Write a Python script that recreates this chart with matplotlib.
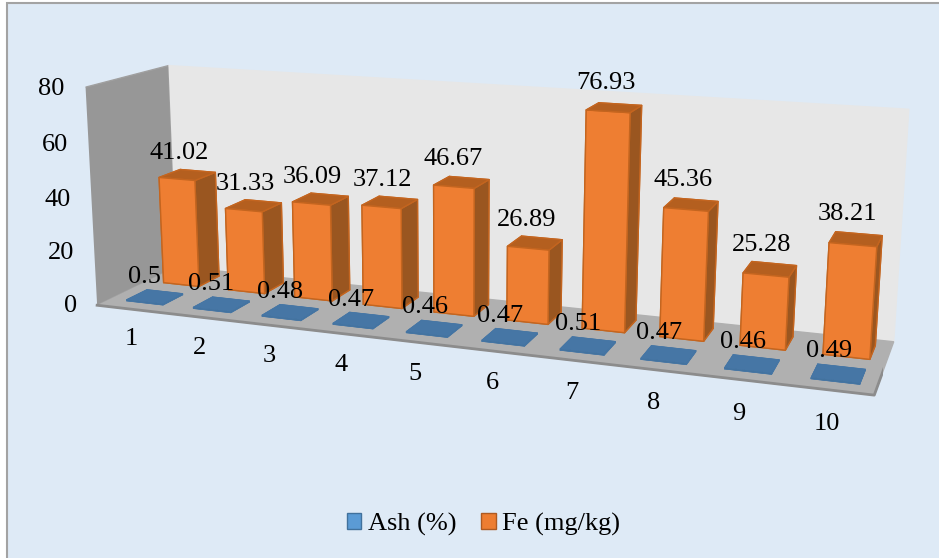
import numpy as np
import matplotlib
matplotlib.use("Agg")
import matplotlib.pyplot as plt
from matplotlib.patches import Rectangle
from mpl_toolkits.mplot3d import proj3d

plt.rcParams['font.family'] = ['Liberation Serif', 'DejaVu Serif']

samples = ['1', '2', '3', '4', '5', '6', '7', '8', '9', '10']
ash = [0.5, 0.51, 0.48, 0.47, 0.46, 0.47, 0.51, 0.47, 0.46, 0.49]
fe = [41.02, 31.33, 36.09, 37.12, 46.67, 26.89, 76.93, 45.36, 25.28, 38.21]
zticks = [0, 20, 40, 60, 80]

fs = 19
fig = plt.figure(figsize=(9.39, 5.58), dpi=100, facecolor='white')
fig.add_artist(Rectangle((6.5 / 939, -0.02), 1.02, 1.02 - 3.5 / 558, transform=fig.transFigure,
                         facecolor='#deeaf6', edgecolor='#a3a3a3', lw=1.5, zorder=-1))

# view settings fitted to the corners of the chart frame
ax = fig.add_axes([0.0631, -0.1388, 0.8777, 1.4771], projection='3d', proj_type='persp', focal_length=0.3653)
ax.patch.set_visible(False)
ax.view_init(elev=13.351, azim=-70.368, roll=-0.223)
ax.set_box_aspect((10, 2.053, 2.89))
ax.computed_zorder = False

n = len(samples)
x = np.arange(n)
w = 0.55
d = 0.55
gap = (1 - w) / 2 + 0.03

# per face colours: bottom, top, front, back, left, right
ash_faces = ['#41719c', '#4676a5', '#41719c', '#41719c', '#41719c', '#41719c'] * n
fe_faces = ['#c05f1c', '#b45f1f', '#ee7e32', '#c05f1c', '#c05f1c', '#9a5620'] * n
ax.bar3d(x + gap, np.full(n, 0.3), np.zeros(n), w, 0.5, ash, color=ash_faces, edgecolor='#4676a5',
         linewidth=0.5, shade=False, zorder=2)
ax.bar3d(x + gap, np.full(n, 1.225), np.zeros(n), w, d, fe, color=fe_faces, edgecolor='#c4651f',
         linewidth=1.0, shade=False, zorder=3)

ax.set_xlim(0, n, view_margin=0)
ax.set_ylim(0, 2, view_margin=0)
ax.set_zlim(0, 80, view_margin=0)
ax.set_xticks([])
ax.set_yticks([])
ax.set_zticks([])
ax.grid(False)
for axis, col, edge in [(ax.xaxis, '#979797', '#a0a0a0'), (ax.yaxis, '#e7e7e7', '#e7e7e7'), (ax.zaxis, '#b0b0b0', '#b0b0b0')]:
    axis.pane.set_facecolor(col)
    axis.pane.set_edgecolor(edge)
    axis.pane.set_alpha(1)
    axis.line.set_color('none')

# darker front and right edge of the floor
ax.plot([0, n, n], [0, 0, 2], [0, 0, 0], color='#8c8c8c', lw=2, zorder=1)


def label(px, py, pz, s, ha='center'):
    # project by hand so the text sits at a plain 2D position
    sx, sy, _ = proj3d.proj_transform(px, py, pz, ax.get_proj())
    ax.text2D(sx, sy, s, transform=ax.transData, fontsize=fs, ha=ha, va='center', zorder=5)


for i in range(n):
    label(i + 0.42, 0.5, ash[i] + 7.5, str(ash[i]))
    label(i + 0.42, 1.5, fe[i] + 8.2, str(fe[i]))
    label(i + 0.5, 0, -11.4, samples[i])
for t in zticks:
    label(-0.31, 0, t - 1.3, str(t), ha='right')

handles = [Rectangle((0, 0), 1, 1, facecolor='#5b9bd5', edgecolor='#41719c'),
           Rectangle((0, 0), 1, 1, facecolor='#ed7d31', edgecolor='#ae5a21')]
fig.legend(handles, ['Ash (%)', 'Fe (mg/kg)'], loc='center', bbox_to_anchor=(0.515, 0.06), ncol=2, frameon=False,
           fontsize=fs, handlelength=0.55, handleheight=0.55, handletextpad=0.25, columnspacing=0.95)

fig.savefig('out.png', dpi=100, facecolor=fig.get_facecolor())
